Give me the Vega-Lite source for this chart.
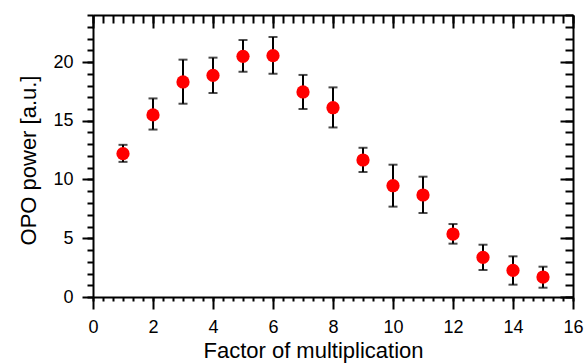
{
  "$schema": "https://vega.github.io/schema/vega-lite/v6.json",
  "width": 480,
  "height": 282,
  "autosize": "none",
  "padding": {"left": 93, "top": 15, "right": 11, "bottom": 66},
  "background": "white",
  "config": {
    "view": {"stroke": null},
    "font": "Liberation Sans",
    "axis": {
      "grid": false,
      "domainColor": "black",
      "domainWidth": 2,
      "tickColor": "black",
      "tickWidth": 2,
      "labelColor": "black",
      "titleColor": "black",
      "labelFont": "Liberation Sans",
      "titleFont": "Liberation Sans",
      "labelFontSize": 18,
      "titleFontSize": 22,
      "titleFontWeight": "normal",
      "labelFlush": false,
      "labelOverlap": false,
      "labelBound": false
    }
  },
  "data": {
    "values": [
      {"x": 1, "y": 12.2, "lo": 11.5, "hi": 12.95},
      {"x": 2, "y": 15.5, "lo": 14.25, "hi": 16.9},
      {"x": 3, "y": 18.3, "lo": 16.45, "hi": 20.2},
      {"x": 4, "y": 18.86, "lo": 17.36, "hi": 20.37},
      {"x": 5, "y": 20.48, "lo": 19.17, "hi": 21.87},
      {"x": 6, "y": 20.54, "lo": 19.0, "hi": 22.13},
      {"x": 7, "y": 17.45, "lo": 16.0, "hi": 18.9},
      {"x": 8, "y": 16.11, "lo": 14.43, "hi": 17.84},
      {"x": 9, "y": 11.66, "lo": 10.64, "hi": 12.7},
      {"x": 10, "y": 9.47, "lo": 7.69, "hi": 11.26},
      {"x": 11, "y": 8.68, "lo": 7.15, "hi": 10.24},
      {"x": 12, "y": 5.36, "lo": 4.54, "hi": 6.21},
      {"x": 13, "y": 3.37, "lo": 2.3, "hi": 4.45},
      {"x": 14, "y": 2.26, "lo": 1.05, "hi": 3.46},
      {"x": 15, "y": 1.7, "lo": 0.79, "hi": 2.58}
    ]
  },
  "resolve": {"axis": {"x": "independent", "y": "independent"}},
  "layer": [
    {
      "mark": {"type": "point", "opacity": 0},
      "encoding": {
        "x": {"field": "x", "type": "quantitative", "scale": {"domain": [0, 16], "nice": false, "zero": false},
          "axis": {"orient": "bottom", "values": [0,0.3333,0.6667,1,1.3333,1.6667,2,2.3333,2.6667,3,3.3333,3.6667,4,4.3333,4.6667,5,5.3333,5.6667,6,6.3333,6.6667,7,7.3333,7.6667,8,8.3333,8.6667,9,9.3333,9.6667,10,10.3333,10.6667,11,11.3333,11.6667,12,12.3333,12.6667,13,13.3333,13.6667,14,14.3333,14.6667,15,15.3333,15.6667,16], "labels": false, "domain": false, "tickSize": 4, "title": null}},
        "y": {"field": "y", "type": "quantitative", "scale": {"domain": [0, 24], "nice": false, "zero": false},
          "axis": {"orient": "left", "values": [0,1,2,3,4,5,6,7,8,9,10,11,12,13,14,15,16,17,18,19,20,21,22,23,24], "labels": false, "domain": false, "tickSize": 6, "title": null}}
      }
    },
    {
      "mark": {"type": "point", "opacity": 0},
      "encoding": {
        "x": {"field": "x", "type": "quantitative",
          "axis": {"orient": "top", "values": [0,0.3333,0.6667,1,1.3333,1.6667,2,2.3333,2.6667,3,3.3333,3.6667,4,4.3333,4.6667,5,5.3333,5.6667,6,6.3333,6.6667,7,7.3333,7.6667,8,8.3333,8.6667,9,9.3333,9.6667,10,10.3333,10.6667,11,11.3333,11.6667,12,12.3333,12.6667,13,13.3333,13.6667,14,14.3333,14.6667,15,15.3333,15.6667,16], "labels": false, "domain": false, "tickSize": -8, "title": null}},
        "y": {"field": "y", "type": "quantitative",
          "axis": {"orient": "right", "values": [0,1,2,3,4,5,6,7,8,9,10,11,12,13,14,15,16,17,18,19,20,21,22,23,24], "labels": false, "domain": false, "tickSize": -8, "title": null}}
      }
    },
    {
      "mark": {"type": "errorbar", "ticks": {"size": 9, "thickness": 2, "color": "black"}, "thickness": 2, "color": "black"},
      "encoding": {
        "x": {"field": "x", "type": "quantitative",
          "axis": {"orient": "top", "values": [0,2,4,6,8,10,12,14,16], "labels": false, "tickSize": -13, "title": null}},
        "y": {"field": "lo", "type": "quantitative",
          "axis": {"orient": "right", "values": [0,5,10,15,20], "labels": false, "tickSize": -13, "title": null}},
        "y2": {"field": "hi"}
      }
    },
    {
      "mark": {"type": "point", "filled": true, "color": "#ff0000", "opacity": 1, "size": 175, "strokeWidth": 0},
      "encoding": {
        "x": {"field": "x", "type": "quantitative",
          "axis": {"orient": "bottom", "values": [0,2,4,6,8,10,12,14,16], "tickSize": 12, "labelPadding": 9, "title": "Factor of multiplication", "titlePadding": 4, "titleX": 220}},
        "y": {"field": "y", "type": "quantitative",
          "axis": {"orient": "left", "values": [0,5,10,15,20], "tickSize": 11, "labelPadding": 9, "title": "OPO power [a.u.]", "titlePadding": 12, "titleY": 145}}
      }
    }
  ]
}
